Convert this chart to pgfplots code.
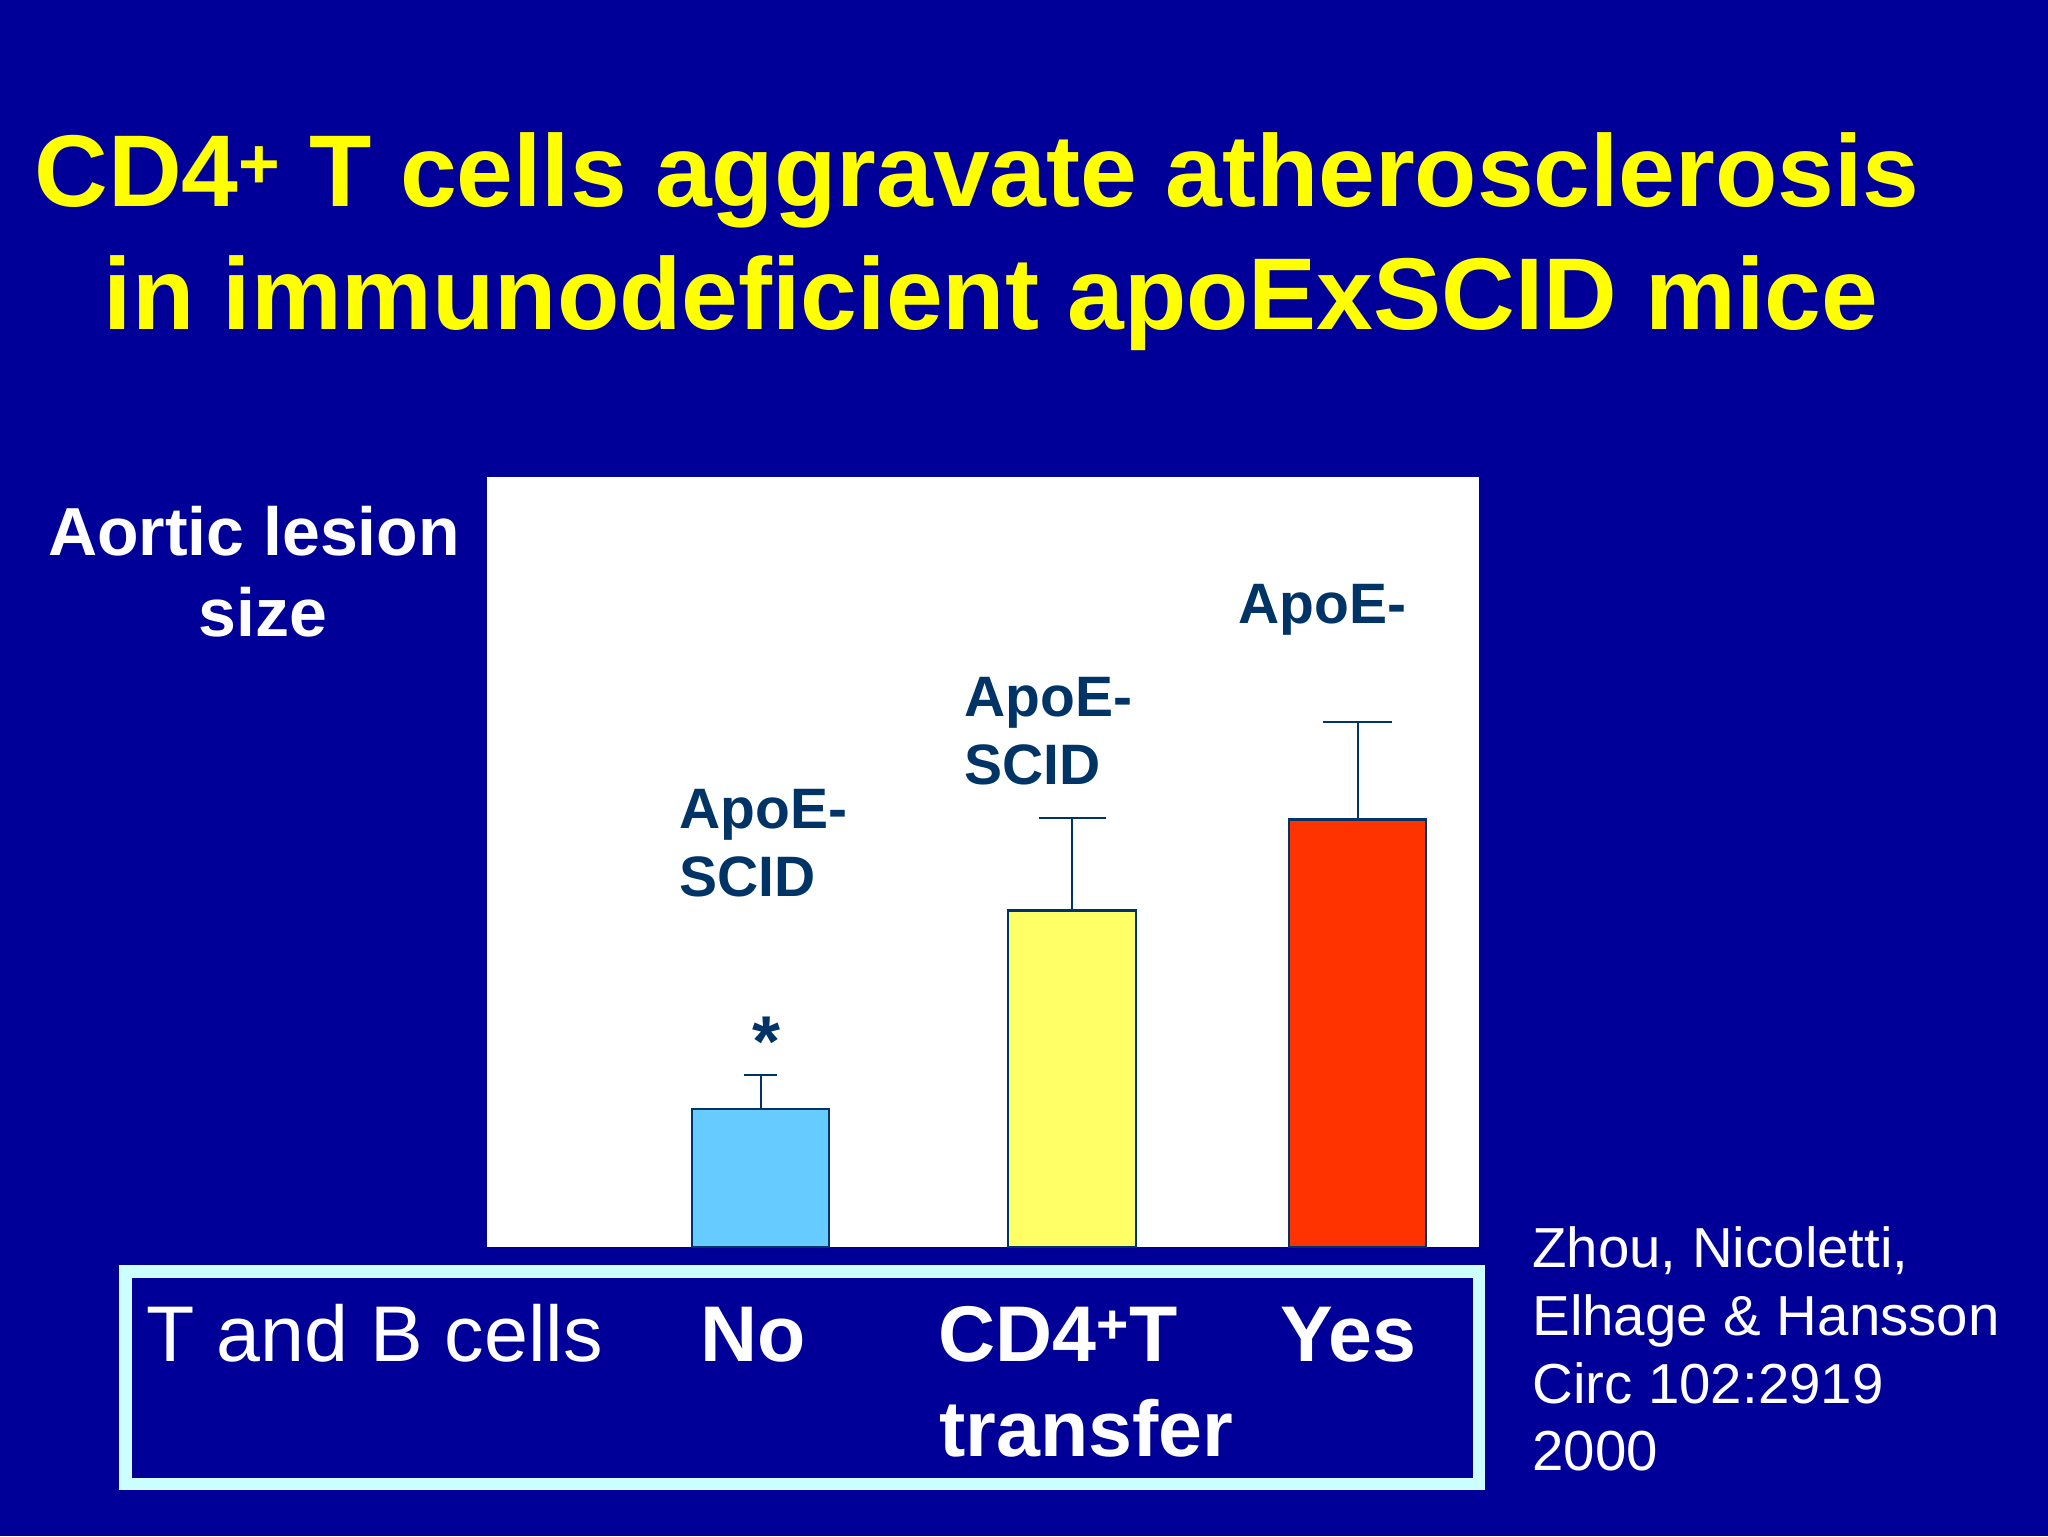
\documentclass[border=0pt]{standalone}
\usepackage{pgfplots}
\pgfplotsset{compat=1.18}
\usepackage{fontspec}
\setmainfont{Liberation Sans}
\definecolor{bg}{RGB}{0,0,153}
\definecolor{ttl}{RGB}{255,255,0}
\definecolor{navy}{RGB}{0,51,102}
\definecolor{bxb}{RGB}{204,255,255}
\definecolor{cblue}{RGB}{102,204,255}
\definecolor{cyel}{RGB}{255,255,102}
\definecolor{cred}{RGB}{255,51,0}
\begin{document}
\begin{tikzpicture}[x=0.5bp,y=0.5bp]
\useasboundingbox (0,0) rectangle (2048,1536);
\fill[bg] (0,0) rectangle (2048,1536);
\fill[white] (487,289) rectangle (1478.5,1059);
\coordinate (axpos) at (487,289);
\begin{axis}[at={(axpos)}, anchor=south west, scale only axis,
  width=495.75bp, height=385bp,
  xmin=0, xmax=100, ymin=0, ymax=100,
  axis lines=none, clip=false]
\addplot[ybar, bar shift=0pt, bar width=13.8, fill=cblue, draw=navy, line width=1.2bp,
  error bars/.cd, y dir=plus, y explicit,
  error bar style={navy, line width=1bp},
  error mark options={rotate=90, navy, line width=1bp, mark size=8.3bp}]
  coordinates {(27.6,17.9) +- (0,4.45)};
\addplot[ybar, bar shift=0pt, bar width=12.9, fill=cyel, draw=navy, line width=1.2bp,
  error bars/.cd, y dir=plus, y explicit,
  error bar style={navy, line width=1bp},
  error mark options={rotate=90, navy, line width=1bp, mark size=16.75bp}]
  coordinates {(59.0,43.7) +- (0,12.0)};
\addplot[ybar, bar shift=0pt, bar width=13.8, fill=cred, draw=navy, line width=1.2bp,
  error bars/.cd, y dir=plus, y explicit,
  error bar style={navy, line width=1bp},
  error mark options={rotate=90, navy, line width=1bp, mark size=17.1bp}]
  coordinates {(87.8,55.5) +- (0,12.7)};
\end{axis}
% title
\node[anchor=base, text=ttl, font=\fontsize{51bp}{60bp}\selectfont\bfseries] at (977,1329) {CD4\textsuperscript{+} T cells aggravate atherosclerosis};
\node[anchor=base, text=ttl, font=\fontsize{51bp}{60bp}\selectfont\bfseries] at (991,1206) {in immunodeficient apoExSCID mice};
% y label
\node[anchor=base, text=white, font=\fontsize{34bp}{40bp}\selectfont\bfseries] at (254,980) {Aortic lesion};
\node[anchor=base, text=white, font=\fontsize{34bp}{40bp}\selectfont\bfseries] at (263,899) {size};
% bar labels
\begin{scope}[every node/.style={anchor=base west, text=navy, inner sep=0pt, font=\fontsize{28.5bp}{34bp}\selectfont\bfseries}]
\node at (679,707.3) {ApoE-};
\node at (679,639) {SCID};
\node at (964,819.2) {ApoE-};
\node at (964,751.1) {SCID};
\node at (1238,912.4) {ApoE-};
\end{scope}
\node[text=navy, inner sep=0pt, font=\fontsize{36bp}{40bp}\selectfont\bfseries] at (766,494) {*};
% bottom box
\draw[bxb, line width=6.25bp] (125.7,52) rectangle (1479,264.5);
\begin{scope}[every node/.style={anchor=base west, text=white, inner sep=0pt, font=\fontsize{39.5bp}{46bp}\selectfont}]
\node at (146,174.3) {T and B cells};
\node[font=\fontsize{39.5bp}{46bp}\selectfont\bfseries] at (700,174.3) {No};
\node[font=\fontsize{39.5bp}{46bp}\selectfont\bfseries] at (938,174.3) {CD4\textsuperscript{+}T};
\node[font=\fontsize{39.5bp}{46bp}\selectfont\bfseries] at (1280,174.3) {Yes};
\node[font=\fontsize{39.5bp}{46bp}\selectfont\bfseries] at (939,79.3) {transfer};
\end{scope}
% citation
\begin{scope}[every node/.style={anchor=base west, text=white, inner sep=0pt, font=\fontsize{28.2bp}{34bp}\selectfont}]
\node at (1532,268.5) {Zhou, Nicoletti,};
\node at (1532,201) {Elhage \& Hansson};
\node at (1532,132.7) {Circ 102:2919};
\node at (1532,65.3) {2000};
\end{scope}
\end{tikzpicture}
\end{document}
